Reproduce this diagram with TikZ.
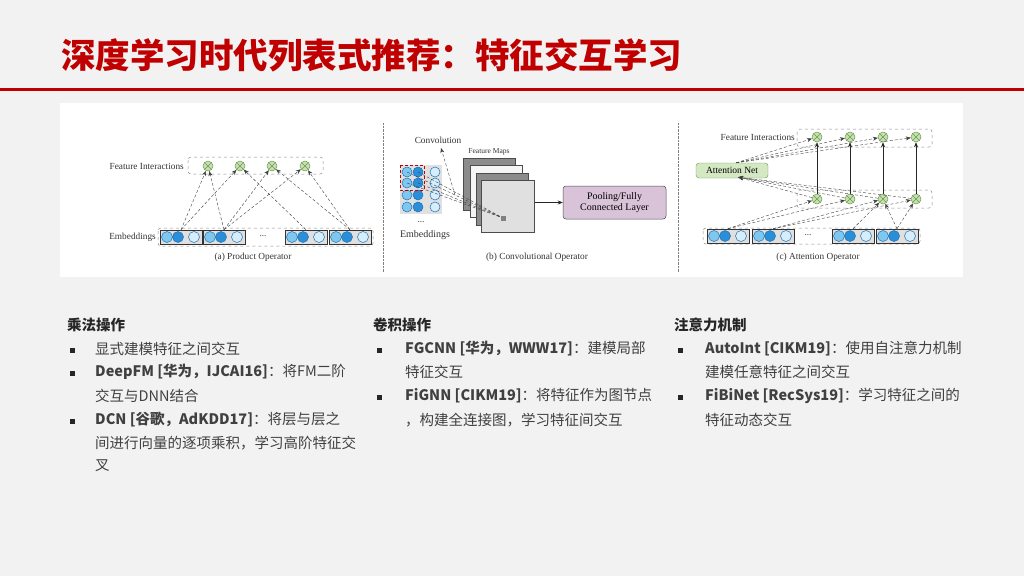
\documentclass[tikz,border=0pt]{standalone}
\usepackage{fontspec}
\setmainfont{Noto Sans CJK SC}
\newfontfamily\cjk{Noto Sans CJK SC}
\newfontfamily\ser{Liberation Serif}
\usetikzlibrary{arrows.meta}
\definecolor{bg}{HTML}{F2F2F2}
\definecolor{titlered}{HTML}{C00000}
\definecolor{lb}{HTML}{7EC8F0}
\definecolor{db}{HTML}{2A8FD8}
\definecolor{wb}{HTML}{D6EEFB}
\definecolor{bo}{HTML}{1F6FB0}
\definecolor{gc}{HTML}{C6E0B4}
\definecolor{go}{HTML}{6A9A4A}
\definecolor{an}{HTML}{D5E8C4}
\definecolor{pool}{HTML}{D9C3D8}
\definecolor{txt}{HTML}{404040}
\tikzset{
  dtxt/.style={font=\ser\fontsize{9.3}{10}\selectfont, text=black!80, inner sep=0},
  ebox/.style={draw=black!80, fill=black!12, minimum width=42, minimum height=14, inner sep=0, line width=0.6},
  outer/.style={draw=black!45, dashed, rounded corners=3, line width=0.5},
  emb/.style={circle, draw=bo, line width=0.5, minimum size=11, inner sep=0, fill=#1},
  gx/.style={circle, draw=go, fill=gc, minimum size=10, inner sep=0, line width=0.5,
    path picture={\draw[go,line width=0.5] (path picture bounding box.north west)--(path picture bounding box.south east) (path picture bounding box.north east)--(path picture bounding box.south west);}},
  dar/.style={-{Stealth[length=5,width=4]}, densely dashed, black!75, line width=0.4},
  sar/.style={-{Stealth[length=5,width=4]}, black!85, line width=0.6},
  body/.style={font=\fontsize{14.5}{16}\selectfont, text=txt, anchor=west, inner sep=0},
  head/.style={font=\bfseries\fontsize{14.5}{16}\selectfont, text=black!85, anchor=west, inner sep=0},
  bul/.style={fill=black!85, minimum size=5, inner sep=0},
}
\newcommand\embrow[3]{%
  \node[ebox] (#1) at ({#2+21},#3) {};
  \node[emb=lb] (#1c1) at ({#2+7},#3) {};
  \node[emb=db] (#1c2) at ({#2+18},#3) {};
  \node[emb=wb] (#1c3) at ({#2+34},#3) {};
}
\begin{document}
\begin{tikzpicture}[x=1pt,y=-1pt]
\fill[bg] (0,0) rectangle (1024,576);
\useasboundingbox (0,0) rectangle (1024,576);
% title
\node[anchor=west, inner sep=0, text=titlered, font=\bfseries\fontsize{34.5}{38}\selectfont] (title) at (61,55) {深度学习时代列表式推荐：特征交互学习};
\fill[titlered] (0,87.5) rectangle (1024,90.5);
% panel
\fill[white] (60,103) rectangle (963,277);
% ===== (a)
\draw[outer] (188,157) rectangle (323,174);
\node[dtxt, anchor=east] (fia) at (184,166) {Feature Interactions};
\foreach \i/\x in {1/208,2/240,3/272,4/305}{\node[gx] (ac\i) at (\x,166) {};}
\draw[outer] (158,228) rectangle (373,246);
\node[dtxt, anchor=east] (emba) at (156,237) {Embeddings};
\embrow{aa}{160}{237}
\embrow{ab}{203}{237}
\embrow{ac}{285}{237}
\embrow{ad}{329}{237}
\node[dtxt] (dotsa) at (263,236) {...};
\foreach \s/\t in {aa/ac1,aa/ac2,ab/ac1,ab/ac3,ab/ac4,ac/ac2,ad/ac3,ad/ac4}{\draw[dar] (\s.north) -- (\t);}
\node[dtxt] (capa) at (253,257) {(a) Product Operator};
% ===== (b)
\draw[black!50, densely dotted] (383,123) -- (383,272);
\draw[black!50, densely dotted] (678,123) -- (678,272);
\node[dtxt] (conv) at (438,140) {Convolution};
\fill[black!12] (400,165) rectangle (442,214);
\foreach \r/\y in {1/172,2/183,3/195,4/207}{
  \node[emb=lb, minimum size=10] (bg\r a) at (407,\y) {};
  \node[emb=db, minimum size=10] (bg\r b) at (418,\y) {};
  \node[emb=wb, minimum size=10] (bg\r c) at (435,\y) {};}
\draw[red!75!black, densely dashed, line width=0.8] (400,165) rectangle (424,190);
\node[dtxt] (dotsb) at (421,222) {...};
\node[dtxt, font=\ser\fontsize{10}{11}\selectfont] (embb) at (425,235) {Embeddings};
\node[dtxt, font=\ser\fontsize{7.5}{8}\selectfont] (fm) at (489,152) {Feature Maps};
\node[draw=black!70, fill=black!45, minimum width=52, minimum height=52, inner sep=0, line width=0.4] (m1) at (489,184) {};
\node[draw=black!70, fill=black!4, minimum width=52, minimum height=52, inner sep=0, line width=0.4] (m2) at (496,191) {};
\node[draw=black!70, fill=black!45, minimum width=52, minimum height=52, inner sep=0, line width=0.4] (m3) at (502,199) {};
\node[draw=black!70, fill=black!12, minimum width=53, minimum height=52, inner sep=0, line width=0.4] (m4) at (508,206) {};
\node[fill=black!50, minimum size=5, inner sep=0] (px) at (503,218) {};
\foreach \c in {bg1a,bg1b,bg2a,bg2b}{\draw[densely dashed, black!75, line width=0.4] (\c.center) -- (px);}
\draw[dar] (455,195) -- (441,148);
\node[draw=black!70, fill=pool, rounded corners=3, minimum width=103, minimum height=33, inner sep=0, align=center, font=\ser\fontsize{10}{11.5}\selectfont, line width=0.5] (pl) at (614.5,202.5) {Pooling/Fully\\Connected Layer};
\draw[sar] (m4.east|-pl.west) -- (pl.west);
\node[dtxt] (capb) at (537,257) {(b) Convolutional Operator};
% ===== (c)
\node[dtxt, anchor=east] (fic) at (795,137) {Feature Interactions};
\draw[outer] (797,129) rectangle (932,147);
\draw[outer] (797,190) rectangle (932,208);
\foreach \i/\x in {1/817,2/850,3/883,4/916}{
  \node[gx] (ct\i) at (\x,137) {};
  \node[gx] (cb\i) at (\x,199) {};
  \draw[sar] (cb\i) -- (ct\i);}
\node[draw=go, fill=an, rounded corners=3, minimum width=72, minimum height=15, inner sep=0, font=\ser\fontsize{9.5}{10}\selectfont] (att) at (732,170.5) {Attention Net};
\coordinate (attin) at ([xshift=-30,yshift=1]att.south east);
\coordinate (attout) at ([xshift=-32]att.north east);
\draw[outer] (703,228) rectangle (920,244);
\embrow{ca}{707}{236}
\embrow{cb}{752}{236}
\embrow{cc}{832}{236}
\embrow{cd}{876}{236}
\node[dtxt] (dotsc) at (808,235) {...};
\foreach \s/\t in {ca/cb1,ca/cb2,cb/cb3,cb/cb4,cc/cb3,cd/cb3,cd/cb4}{\draw[dar] (\s.north) -- (\t);}
\foreach \i in {1,2,3,4}{
  \draw[dar] (cb\i) -- (attin);
  \draw[dar] (attout) -- (ct\i);}
\node[dtxt] (capc) at (818,257) {(c) Attention Operator};
% ===== text columns
\node[head] (h1) at (67,325) {乘法操作};
\node[bul] (b11) at (72,350) {}; \node[body] (t11) at (95,349) {显式建模特征之间交互};
\node[bul] (b12) at (72,373) {}; \node[body] (t12) at (95,372) {\textbf{DeepFM [华为，IJCAI16]}：将FM二阶};
\node[body] (t12b) at (95,396) {交互与DNN结合};
\node[bul] (b13) at (72,421) {}; \node[body] (t13) at (95,420) {\textbf{DCN [谷歌，AdKDD17]}：将层与层之};
\node[body] (t13b) at (95,443) {间进行向量的逐项乘积，学习高阶特征交};
\node[body] (t13c) at (95,466) {叉};
\node[head] (h2) at (373,325) {卷积操作};
\node[bul] (b21) at (379,350) {}; \node[body] (t21) at (405,349) {\textbf{FGCNN [华为，WWW17]}：建模局部};
\node[body] (t21b) at (405,372) {特征交互};
\node[bul] (b22) at (379,397) {}; \node[body] (t22) at (405,396) {\textbf{FiGNN [CIKM19]}：将特征作为图节点};
\node[body] (t22b) at (405,420) {，构建全连接图，学习特征间交互};
\node[head] (h3) at (674,325) {注意力机制};
\node[bul] (b31) at (680,350) {}; \node[body] (t31) at (705,349) {\textbf{AutoInt [CIKM19]}：使用自注意力机制};
\node[body] (t31b) at (705,372) {建模任意特征之间交互};
\node[bul] (b32) at (680,397) {}; \node[body] (t32) at (705,396) {\textbf{FiBiNet [RecSys19]}：学习特征之间的};
\node[body] (t32b) at (705,420) {特征动态交互};
\end{tikzpicture}
\end{document}
